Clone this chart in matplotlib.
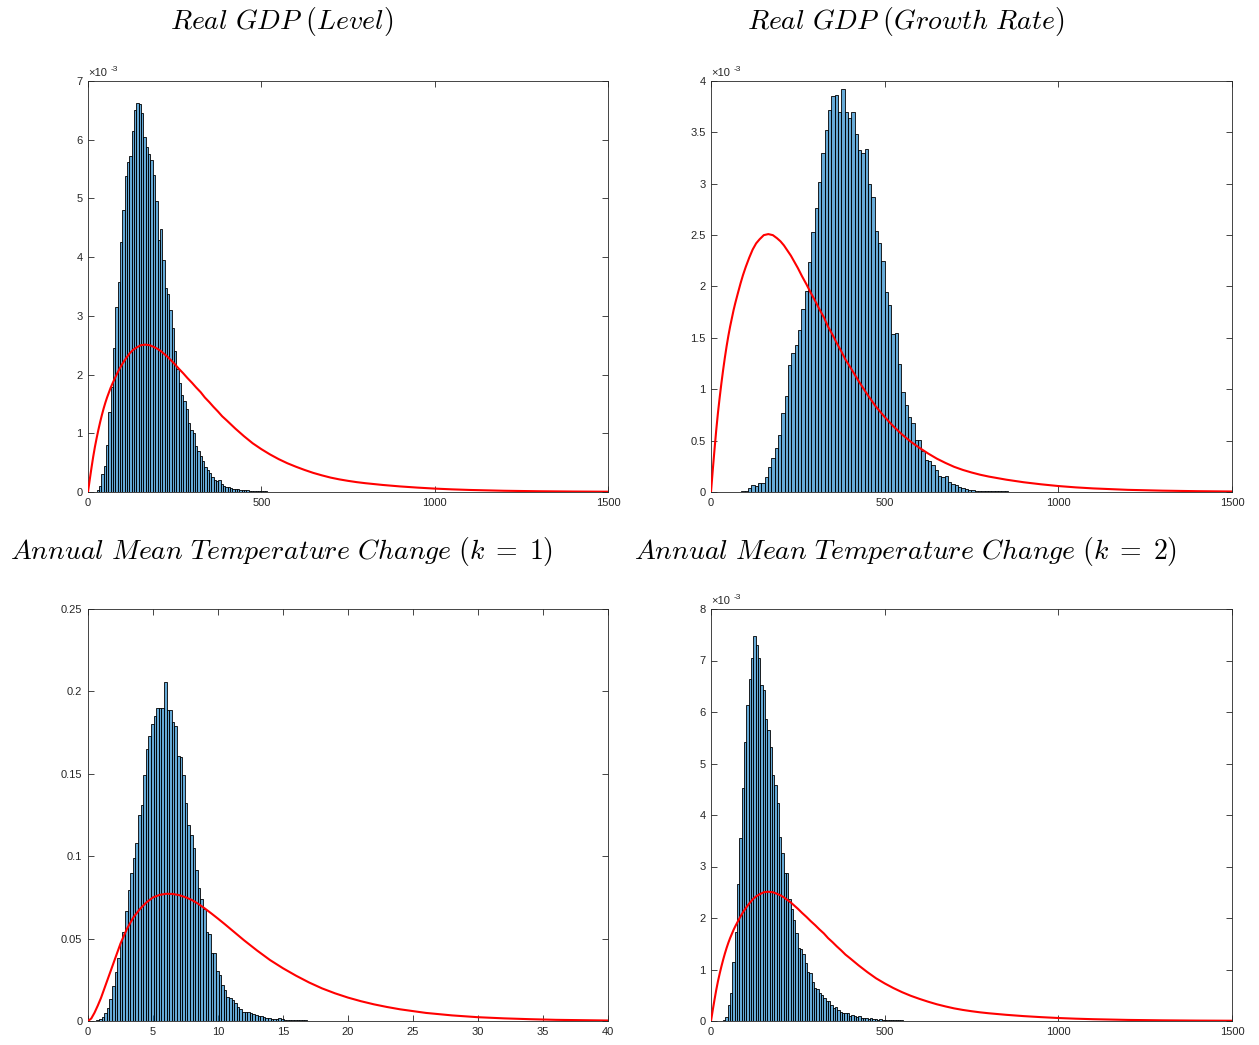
import numpy as np
import matplotlib
matplotlib.use('Agg')
import matplotlib.pyplot as plt

plt.rcParams['font.family'] = ['Liberation Sans', 'DejaVu Sans']
plt.rcParams['mathtext.fontset'] = 'cm'

# ---- histogram data (heights) ----
# Real GDP (Level), density in units of 1e-3
gdp_level_start = 25.0
gdp_level_width = 6.75
gdp_level_dens = [
    0.04, 0.11, 0.30, 0.45, 0.80, 1.36, 1.78, 2.45, 3.15, 3.58,
    4.25, 4.80, 5.38, 5.62, 5.72, 6.15, 6.50, 6.62, 6.60, 6.45,
    6.05, 5.88, 5.75, 5.65, 5.40, 4.95, 4.30, 4.48, 3.95, 3.48,
    3.38, 3.10, 2.80, 2.40, 2.10, 1.85, 1.65, 1.55, 1.42, 1.18,
    1.05, 1.00, 0.78, 0.70, 0.62, 0.52, 0.42, 0.37, 0.33, 0.25,
    0.20, 0.18, 0.21, 0.14, 0.11, 0.09, 0.08, 0.065, 0.055, 0.05,
    0.045, 0.04, 0.035, 0.03, 0.03, 0.025, 0.02, 0.02, 0.015, 0.015,
    0.012, 0.01, 0.01, 0.008, 0.008, 0.006, 0.005, 0.005, 0.004, 0.004,
]

# Real GDP (Growth Rate), density in units of 1e-3
gdp_growth_start = 87.0
gdp_growth_width = 9.6
gdp_growth_dens = [
    0.005, 0.01, 0.035, 0.07, 0.06, 0.085, 0.09, 0.15, 0.24, 0.33,
    0.43, 0.55, 0.77, 0.93, 1.24, 1.35, 1.43, 1.58, 1.78, 1.96,
    2.24, 2.53, 2.76, 3.02, 3.30, 3.52, 3.72, 3.85, 3.86, 3.70,
    3.92, 3.70, 3.64, 3.70, 3.48, 3.33, 3.30, 3.34, 3.00, 2.87,
    2.54, 2.42, 2.25, 1.95, 1.82, 1.54, 1.55, 1.25, 0.97, 0.85,
    0.73, 0.67, 0.51, 0.51, 0.40, 0.31, 0.30, 0.26, 0.21, 0.16,
    0.15, 0.16, 0.10, 0.075, 0.07, 0.045, 0.035, 0.026, 0.02, 0.018,
    0.014, 0.012, 0.01, 0.01, 0.008, 0.008, 0.006, 0.006, 0.005, 0.005,
    0.004, 0.004, 0.004, 0.003, 0.003, 0.003, 0.002, 0.002, 0.002, 0.002,
    0.002, 0.002, 0.002,
]

# Annual Mean Temperature Change (k = 1), density
temp1_start = 0.65
temp1_width = 0.2
temp1_dens = [
    0.0005, 0.0012, 0.0026, 0.0047, 0.0077, 0.0133, 0.021, 0.0295, 0.038, 0.048,
    0.054, 0.067, 0.0795, 0.090, 0.099, 0.108, 0.125, 0.131, 0.149, 0.165,
    0.173, 0.180, 0.185, 0.190, 0.190, 0.190, 0.2055, 0.189, 0.189, 0.1816,
    0.179, 0.161, 0.160, 0.149, 0.132, 0.119, 0.113, 0.105, 0.0916, 0.0805,
    0.074, 0.068, 0.054, 0.053, 0.041, 0.041, 0.0305, 0.028, 0.022, 0.019,
    0.0148, 0.014, 0.0127, 0.0107, 0.0087, 0.0073, 0.0057, 0.0055, 0.0055, 0.005,
    0.0045, 0.0036, 0.003, 0.0028, 0.0025, 0.002, 0.0018, 0.0015, 0.0012, 0.0012,
    0.0018, 0.001, 0.0008, 0.0007, 0.0006, 0.0006, 0.0005, 0.0005, 0.0004, 0.0004,
    0.0004, 0.0003, 0.0003, 0.0003, 0.0003, 0.0002, 0.0002, 0.0002, 0.0002, 0.0002,
    0.0002, 0.0001, 0.0001, 0.0002, 0.0001, 0.0001, 0.0001, 0.0001, 0.0001, 0.0001,
    0.0001, 0.0001, 0.0001, 0.0001, 0.0001, 0.0001, 0.0001,
]

# Annual Mean Temperature Change (k = 2), density in units of 1e-3
temp2_start = 34.5
temp2_width = 6.72
temp2_dens = [
    0.02, 0.07, 0.31, 0.54, 1.15, 1.73, 2.66, 3.55, 4.52, 5.42,
    6.14, 6.65, 7.04, 7.48, 7.30, 7.04, 6.52, 6.43, 5.86, 5.66,
    5.33, 4.78, 4.58, 4.23, 3.58, 3.27, 2.87, 2.87, 2.36, 2.17,
    1.96, 1.70, 1.41, 1.39, 1.31, 1.12, 0.96, 0.94, 0.76, 0.65,
    0.63, 0.54, 0.50, 0.44, 0.39, 0.39, 0.31, 0.25, 0.27, 0.21,
    0.18, 0.16, 0.15, 0.15, 0.10, 0.12, 0.10, 0.08, 0.09, 0.065,
    0.05, 0.055, 0.045, 0.05, 0.03, 0.035, 0.025, 0.03, 0.02, 0.02,
    0.018, 0.015, 0.015, 0.012, 0.012, 0.01, 0.01, 0.009, 0.008, 0.008,
    0.007, 0.006, 0.006, 0.005, 0.005, 0.005, 0.004, 0.004, 0.004, 0.003,
    0.003, 0.003, 0.003, 0.002, 0.002, 0.002, 0.002, 0.002, 0.002, 0.002,
    0.001, 0.001, 0.001, 0.001, 0.001, 0.001,
]

# ---- red prior curves ----
prior_gdp_x = [0, 5, 10, 15, 20, 25, 30, 35, 40, 45, 50, 55, 60, 65, 70, 77, 85, 92,
               100, 110, 120, 130, 140, 152, 165, 178, 190, 200, 210, 220, 230,
               240, 250, 262, 275, 287, 300, 312, 325, 337, 350, 362, 375, 387,
               400, 425, 450, 475, 500, 525, 550, 575, 600, 625, 650, 675, 700,
               725, 750, 775, 800, 850, 900, 950, 1000, 1050, 1100, 1200, 1300,
               1400, 1500]
prior_gdp_y = [0, 0.21, 0.41, 0.60, 0.77, 0.92, 1.06, 1.19, 1.31, 1.42, 1.52, 1.61,
               1.69, 1.77, 1.84, 1.93, 2.03, 2.11, 2.19, 2.28, 2.36, 2.42, 2.46,
               2.50, 2.51, 2.50, 2.47, 2.44, 2.40, 2.35, 2.30, 2.24, 2.18, 2.10,
               2.02, 1.94, 1.86, 1.78, 1.70, 1.61, 1.53, 1.45, 1.37, 1.29, 1.22,
               1.08, 0.95, 0.83, 0.73, 0.64, 0.56, 0.49, 0.43, 0.375, 0.325,
               0.283, 0.245, 0.215, 0.19, 0.168, 0.15, 0.12, 0.095, 0.075, 0.058,
               0.045, 0.035, 0.021, 0.013, 0.008, 0.005]

prior_temp_x = [0, 0.25, 0.5, 0.75, 1, 1.5, 2, 2.5, 3, 3.5, 4, 4.5, 5, 5.5, 6, 6.5,
                7, 7.5, 8, 8.5, 9, 9.5, 10, 10.5, 11, 11.5, 12, 13, 14, 15, 16,
                17, 18, 19, 20, 21, 22, 23, 24, 26, 28, 30, 32, 34, 36, 38, 40]
prior_temp_y = [0, 0.0015, 0.005, 0.0093, 0.014, 0.025, 0.036, 0.047, 0.056, 0.063,
                0.068, 0.072, 0.075, 0.0765, 0.0772, 0.0771, 0.0764, 0.0751,
                0.0734, 0.0710, 0.0682, 0.0652, 0.0621, 0.0589, 0.0556, 0.0523,
                0.0490, 0.0428, 0.0370, 0.0320, 0.0275, 0.0234, 0.0198, 0.0168,
                0.0142, 0.0120, 0.0101, 0.0085, 0.0071, 0.0049, 0.0034, 0.0023,
                0.0016, 0.0011, 0.0007, 0.0005, 0.0003]

titles = [r'$\mathit{Real\ GDP\ (Level)}$',
          r'$\mathit{Real\ GDP\ (Growth\ Rate)}$',
          r'$\mathit{Annual\ Mean\ Temperature\ Change\ (}k\;=\;1\mathit{)}$',
          r'$\mathit{Annual\ Mean\ Temperature\ Change\ (}k\;=\;2\mathit{)}$']

# ---- figure ----
W, H = 1259, 1045
fig = plt.figure(figsize=(W / 100, H / 100), dpi=100)

def px_axes(l, t, r, b):
    return fig.add_axes([l / W, 1 - b / H, (r - l) / W, (b - t) / H])

ax_gray = '#262626'
bar_face = (0.0, 0.447, 0.741, 0.6)

panels = [
    dict(box=(88, 81, 608, 492), start=gdp_level_start, width=gdp_level_width,
         dens=gdp_level_dens, px=prior_gdp_x, py=prior_gdp_y,
         xlim=(0, 1500), xticks=[0, 500, 1000, 1500],
         ylim=(0, 7), yticks=list(range(8)), ylabels=[str(v) for v in range(8)], sci=True),
    dict(box=(711, 81, 1232, 492), start=gdp_growth_start, width=gdp_growth_width,
         dens=gdp_growth_dens, px=prior_gdp_x, py=prior_gdp_y,
         xlim=(0, 1500), xticks=[0, 500, 1000, 1500],
         ylim=(0, 4), yticks=[0, 0.5, 1, 1.5, 2, 2.5, 3, 3.5, 4],
         ylabels=['0', '0.5', '1', '1.5', '2', '2.5', '3', '3.5', '4'], sci=True),
    dict(box=(88, 609, 608, 1021), start=temp1_start, width=temp1_width,
         dens=temp1_dens, px=prior_temp_x, py=prior_temp_y,
         xlim=(0, 40), xticks=list(range(0, 41, 5)),
         ylim=(0, 0.25), yticks=[0, 0.05, 0.1, 0.15, 0.2, 0.25],
         ylabels=['0', '0.05', '0.1', '0.15', '0.2', '0.25'], sci=False),
    dict(box=(711, 609, 1232, 1021), start=temp2_start, width=temp2_width,
         dens=temp2_dens, px=prior_gdp_x, py=prior_gdp_y,
         xlim=(0, 1500), xticks=[0, 500, 1000, 1500],
         ylim=(0, 8), yticks=list(range(9)), ylabels=[str(v) for v in range(9)], sci=True),
]

for p in panels:
    ax = px_axes(*p['box'])
    dens = np.asarray(p['dens'])
    lefts = p['start'] + p['width'] * np.arange(len(dens))
    ax.bar(lefts, dens, width=p['width'], align='edge', color=bar_face,
           edgecolor='black', linewidth=0.6, zorder=2)
    ax.plot(p['px'], p['py'], color='red', linewidth=1.5, zorder=3)
    ax.set_xlim(*p['xlim'])
    ax.set_ylim(*p['ylim'])
    ax.set_xticks(p['xticks'])
    ax.set_xticklabels([str(v) for v in p['xticks']])
    ax.set_yticks(p['yticks'])
    ax.set_yticklabels(p['ylabels'])
    ax.tick_params(direction='in', length=4, width=0.6, colors=ax_gray,
                   labelsize=8, top=True, right=True, pad=4)
    for s in ax.spines.values():
        s.set_color(ax_gray)
        s.set_linewidth(0.6)
    if p['sci']:
        # MATLAB-style exponent label above the top-left corner
        ax.annotate('\u00d710', xy=(0, 1), xycoords='axes fraction',
                    xytext=(0, 2), textcoords='offset points',
                    fontsize=8, color=ax_gray, ha='left', va='bottom')
        ax.annotate('-3', xy=(0, 1), xycoords='axes fraction',
                    xytext=(16.5, 6), textcoords='offset points',
                    fontsize=6, color=ax_gray, ha='left', va='bottom')

title_pos = [(282, 22), (906, 22), (282, 551), (906, 551)]
for t, (x, y) in zip(titles, title_pos):
    fig.text(x / W, 1 - y / H, t, fontsize=20, ha='center', va='center')

fig.savefig('out.png', dpi=100)
